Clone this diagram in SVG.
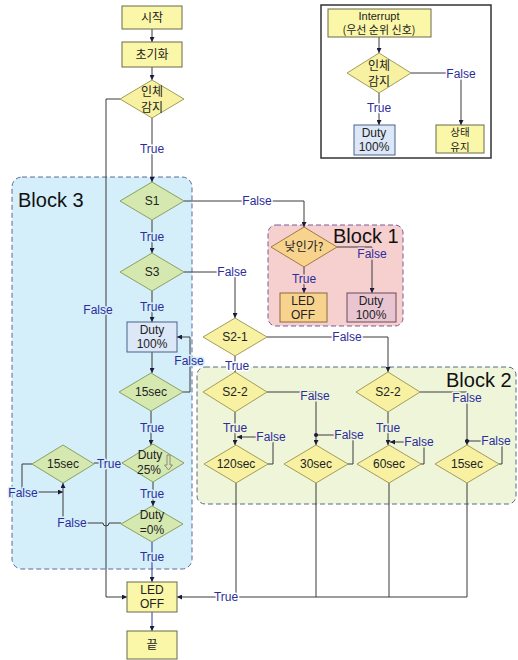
<svg xmlns="http://www.w3.org/2000/svg" width="518" height="660" viewBox="0 0 518 660">
<style>
text{font-family:"Liberation Sans","Noto Sans CJK KR",Arial,sans-serif;font-size:12px;text-anchor:middle;fill:#222}
.k{font-family:"Noto Sans CJK KR","Liberation Sans",sans-serif;font-size:12px}
.s{font-size:11px}
.t{font-size:10.5px}
.lb{fill:#2c2c9c;paint-order:stroke;stroke-width:3px;stroke-linejoin:round}
.hw{stroke:#fff}.hb{stroke:#d4eefa}.hg{stroke:#eef5d9}.hp{stroke:#f6cfcf}
.blk{font-size:20px;text-anchor:start;fill:#111}
.yb{fill:#fbf7a8;stroke:#6b6b4a;stroke-width:1}
.yd{fill:#f7f1a1;stroke:#a39d5a;stroke-width:1}
.gd{fill:#d5e8b0;stroke:#8aa160;stroke-width:1}
.bb{fill:#dce8f8;stroke:#4a6289;stroke-width:1}
.ob{fill:#f8d38e;stroke:#8c6a3a;stroke-width:1}
.od{fill:#f8d38e;stroke:#a07a40;stroke-width:1}
.pb{fill:#e9c5d2;stroke:#6a4a5a;stroke-width:1}
.c path{fill:none;stroke:#3a3a3a;stroke-width:1}
.c .bl{stroke:#2d3a99}
</style>
<defs>
<marker id="a" viewBox="0 0 6 6" refX="6" refY="3" markerWidth="5" markerHeight="5" orient="auto"><path d="M0,0L6,3L0,6z" fill="#1a1a3a"/></marker>
<marker id="d" viewBox="0 0 4 4" refX="2" refY="2" markerWidth="4" markerHeight="4"><circle cx="2" cy="2" r="2" fill="#1a1a3a"/></marker>
</defs>
<rect width="518" height="660" fill="#fff"/>

<g id="block3"><rect x="12" y="177" width="180" height="392" rx="10" fill="#d4eefa" stroke="#5a6b9a" stroke-dasharray="5,3"/><text class="blk" x="18" y="207">Block 3</text></g>
<g id="block1"><rect x="268" y="225" width="135" height="101" rx="8" fill="#f6cfcf" stroke="#7a5a9a" stroke-dasharray="5,3"/><text class="blk" x="333" y="243">Block 1</text></g>
<g id="block2"><rect x="197" y="367" width="319" height="137" rx="8" fill="#eef5d9" stroke="#5a6b8a" stroke-dasharray="5,3"/><text class="blk" x="446" y="387">Block 2</text></g>

<g id="interrupt-frame"><rect x="321" y="5" width="170" height="153" fill="#fff" stroke="#333" stroke-width="1.5"/></g>

<g class="c" id="connectors">
<path d="M152,29V42" marker-end="url(#a)"/>
<path d="M152,67V80" marker-end="url(#a)"/>
<path d="M152,118V182" marker-end="url(#a)"/>
<path d="M120,99H106V597H127" marker-end="url(#a)"/>
<path d="M152,220V253" marker-end="url(#a)"/>
<path d="M184,201H304V227" marker-end="url(#a)"/>
<path d="M152,291V322" marker-end="url(#a)"/>
<path d="M184,272H235V318" marker-end="url(#a)"/>
<path d="M235,356V372" marker-end="url(#a)"/>
<path d="M267,337H388V372" marker-end="url(#a)"/>
<path d="M152,352V373" marker-end="url(#a)"/>
<path d="M183,392H190V337H177" marker-end="url(#a)"/>
<path d="M151,411V445" marker-end="url(#a)"/>
<path d="M153,482V506" marker-end="url(#a)"/>
<path d="M123,463H94"/>
<path d="M32,464H22V492H63" marker-end="url(#a)"/>
<path d="M121,523H109a3,3 0 0 1 -6,0H63V483" marker-end="url(#a)"/>
<path class="bl" d="M152,542V582" marker-end="url(#a)"/>
<path class="bl" d="M152,612V631" marker-end="url(#a)"/>
<path d="M304,267V293" marker-end="url(#a)"/>
<path d="M337,247H372V293" marker-end="url(#a)"/>
<path d="M267,392H316V445" marker-end="url(#a)"/>
<path d="M235,412V445" marker-end="url(#a)"/>
<path d="M268,464H273V437H237" marker-end="url(#a)"/>
<path d="M348,464H353V435H316" marker-end="url(#d)"/>
<path d="M388,412V445" marker-end="url(#a)"/>
<path d="M420,392H467V445" marker-end="url(#a)"/>
<path d="M421,464H424V442H390" marker-end="url(#a)"/>
<path d="M499,464H502V441H467" marker-end="url(#d)"/>
<path d="M236,483V597"/>
<path d="M316,483V597"/>
<path d="M389,483V597"/>
<path d="M467,483V597H177" marker-end="url(#a)"/>
<path d="M379,37V53" marker-end="url(#a)"/>
<path d="M379,93V125" marker-end="url(#a)"/>
<path d="M411,73H461V125" marker-end="url(#a)"/>
</g>

<g id="labels">
<text class="lb hw" x="152" y="153">True</text>
<text class="lb hb" x="98" y="314">False</text>
<text class="lb hw" x="257" y="205">False</text>
<text class="lb hb" x="152" y="241">True</text>
<text class="lb hw" x="232" y="276">False</text>
<text class="lb hb" x="152" y="311">True</text>
<text class="lb hw" x="237" y="370">True</text>
<text class="lb hw" x="347" y="341">False</text>
<text class="lb hb" x="189" y="365">False</text>
<text class="lb hb" x="152" y="432">True</text>
<text class="lb hb" x="109" y="468">True</text>
<text class="lb hb" x="152" y="498">True</text>
<text class="lb hb" x="23" y="497">False</text>
<text class="lb hb" x="72" y="527">False</text>
<text class="lb hb" x="152" y="561">True</text>
<text class="lb hp" x="304" y="283">True</text>
<text class="lb hp" x="372" y="258">False</text>
<text class="lb hg" x="315" y="400">False</text>
<text class="lb hg" x="235" y="432">True</text>
<text class="lb hg" x="271" y="441">False</text>
<text class="lb hg" x="349" y="439">False</text>
<text class="lb hg" x="388" y="432">True</text>
<text class="lb hg" x="467" y="402">False</text>
<text class="lb hg" x="419" y="446">False</text>
<text class="lb hg" x="496" y="445">False</text>
<text class="lb hw" x="226" y="601">True</text>
<text class="lb hw" x="379" y="112">True</text>
<text class="lb hw" x="461" y="78">False</text>
</g>

<g id="start"><rect class="yb" x="122" y="6" width="60" height="23"/><text class="k" x="152" y="22">시작</text></g>
<g id="init"><rect class="yb" x="122" y="42" width="60" height="25"/><text class="k" x="152" y="59">초기화</text></g>
<g id="detect"><polygon class="yd" points="152,80 184,99 152,118 120,99"/><text class="k" x="152" y="96">인체</text><text class="k" x="152" y="112">감지</text></g>
<g id="s1"><polygon class="gd" points="152,182 184,201 152,220 120,201"/><text x="152" y="205">S1</text></g>
<g id="s3"><polygon class="gd" points="152,253 184,272 152,291 120,272"/><text x="152" y="276">S3</text></g>
<g id="duty100"><rect class="bb" x="127" y="322" width="50" height="30"/><text x="152" y="334">Duty</text><text x="152" y="348">100%</text></g>
<g id="t15a"><polygon class="gd" points="151,373 183,392 151,411 119,392"/><text x="151" y="396">15sec</text></g>
<g id="duty25"><polygon class="gd" points="153,444 184,463 153,482 122,463"/><text x="150" y="459">Duty</text><text x="149" y="474">25%</text><path d="M167,455h3v10h2.5l-4,5l-4,-5h2.5z" fill="none" stroke="#777" stroke-width="0.8"/></g>
<g id="t15b"><polygon class="gd" points="63,445 94,464 63,483 32,464"/><text x="63" y="468">15sec</text></g>
<g id="duty0"><polygon class="gd" points="152,506 183,524 152,542 121,524"/><text x="152" y="519">Duty</text><text x="152" y="534">=0%</text></g>
<g id="ledoff"><rect class="yb" x="127" y="582" width="50" height="30"/><text x="152" y="594">LED</text><text x="152" y="608">OFF</text></g>
<g id="end"><rect class="yb" x="127" y="631" width="50" height="28"/><text class="k" x="152" y="649">끝</text></g>

<g id="night"><polygon class="od" points="304,227 337,247 304,267 271,247"/><text class="k" x="304" y="251">낮인가?</text></g>
<g id="led1"><rect class="ob" x="280" y="293" width="47" height="29"/><text x="303" y="305">LED</text><text x="303" y="319">OFF</text></g>
<g id="duty1"><rect class="pb" x="347" y="293" width="49" height="29"/><text x="371" y="305">Duty</text><text x="371" y="319">100%</text></g>

<g id="s21"><polygon class="yd" points="235,318 267,337 235,356 203,337"/><text x="235" y="341">S2-1</text></g>
<g id="s22a"><polygon class="yd" points="235,372 267,392 235,412 203,392"/><text x="235" y="396">S2-2</text></g>
<g id="s22b"><polygon class="yd" points="388,372 420,392 388,412 356,392"/><text x="388" y="396">S2-2</text></g>
<g id="t120"><polygon class="yd" points="236,445 268,464 236,483 204,464"/><text x="236" y="468">120sec</text></g>
<g id="t30"><polygon class="yd" points="316,445 348,464 316,483 284,464"/><text x="316" y="468">30sec</text></g>
<g id="t60"><polygon class="yd" points="389,445 421,464 389,483 357,464"/><text x="389" y="468">60sec</text></g>
<g id="t15c"><polygon class="yd" points="467,445 499,464 467,483 435,464"/><text x="467" y="468">15sec</text></g>

<g id="interrupt"><rect class="yb" x="328" y="9" width="103" height="28"/><text class="s" x="379" y="20">Interrupt</text><text class="k s" x="379" y="34">(우선 순위 신호)</text></g>
<g id="idetect"><polygon class="yd" points="379,53 411,73 379,93 347,73"/><text class="k" x="379" y="70">인체</text><text class="k" x="379" y="86">감지</text></g>
<g id="iduty"><rect class="bb" x="354" y="125" width="41" height="30"/><text x="374" y="137">Duty</text><text x="374" y="151">100%</text></g>
<g id="keep"><rect class="yb" x="436" y="125" width="48" height="28"/><text class="k t" x="460" y="135.5">상태</text><text class="k t" x="460" y="151">유지</text></g>
</svg>
